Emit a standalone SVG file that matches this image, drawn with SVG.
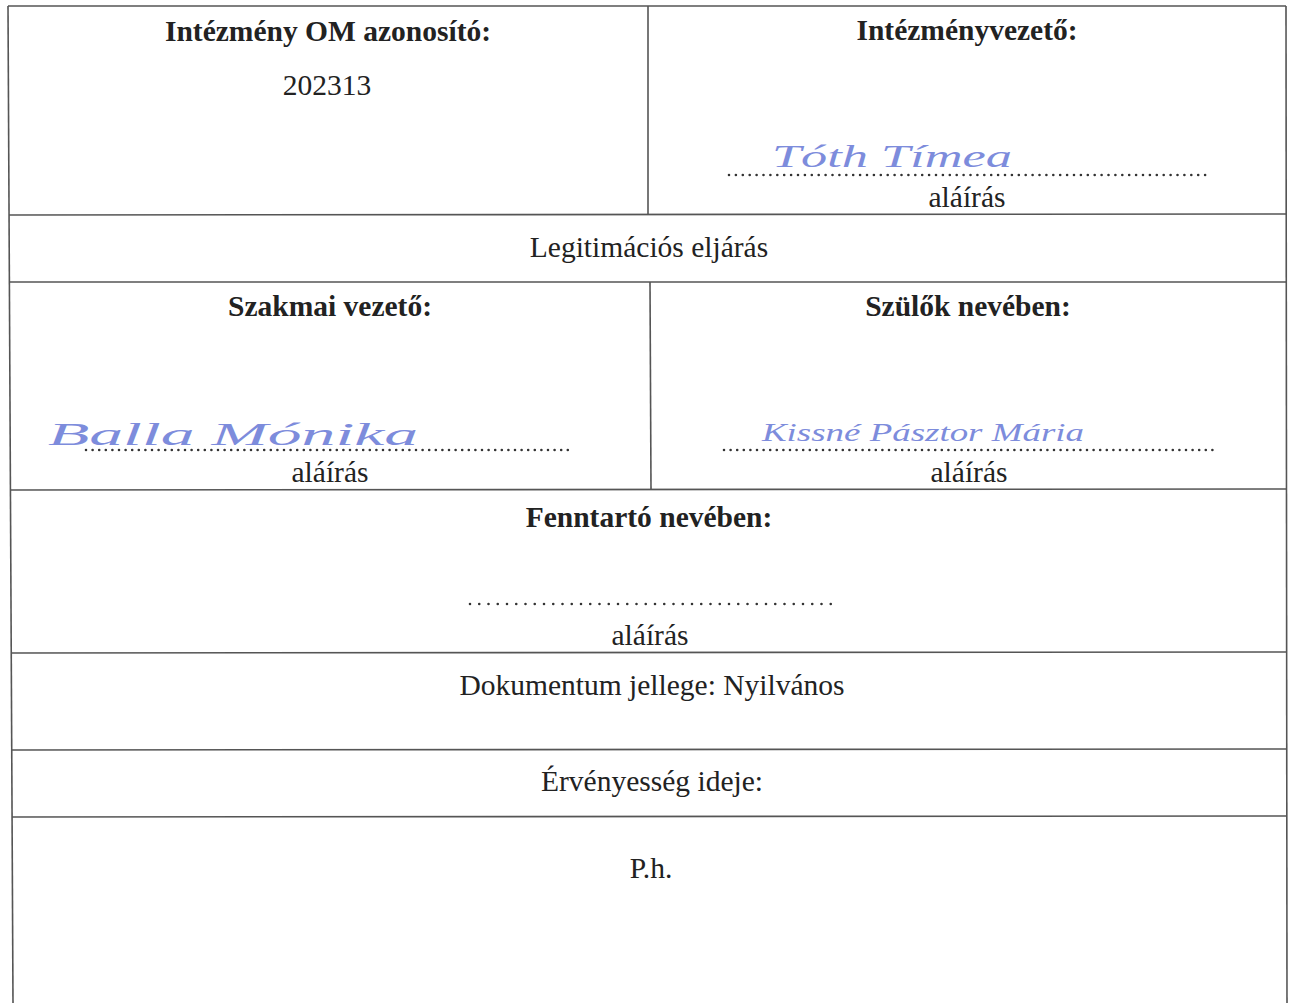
<svg xmlns="http://www.w3.org/2000/svg" width="1289" height="1003" viewBox="0 0 1289 1003">
<style>
.t{font-family:"Liberation Serif","Times New Roman",serif;font-size:29.5px;fill:#222;text-anchor:middle}
.b{font-weight:bold}
.ln{stroke:#555;stroke-width:1.6;fill:none}
.dot{stroke:#333;stroke-width:2.6;stroke-linecap:round;fill:none}
.sig{font-family:"Liberation Serif",serif;font-style:italic;fill:#7d8cdc;font-size:32px;text-anchor:start}
</style>
<rect width="1289" height="1003" fill="#fff"/>
<g id="grid">
<line class="ln" x1="8" y1="6" x2="1286" y2="6"/>
<line class="ln" x1="8" y1="6" x2="13" y2="1003"/>
<line class="ln" x1="1286" y1="6" x2="1287" y2="1003"/>
<line class="ln" x1="648" y1="6" x2="648" y2="215"/>
<line class="ln" x1="9" y1="215" x2="1286" y2="214"/>
<line class="ln" x1="9" y1="282" x2="1286" y2="282"/>
<line class="ln" x1="650" y1="282" x2="651" y2="490"/>
<line class="ln" x1="10" y1="490" x2="1286" y2="489"/>
<line class="ln" x1="11" y1="653" x2="1287" y2="652"/>
<line class="ln" x1="12" y1="750" x2="1287" y2="749"/>
<line class="ln" x1="12" y1="817" x2="1287" y2="816"/>
</g>
<g id="om">
<text class="t b" x="328" y="41">Intézmény OM azonosító:</text>
<text class="t" x="327" y="95">202313</text>
</g>
<g id="vezeto">
<text class="t b" x="967" y="40">Intézményvezető:</text>
<text class="sig" x="772" y="167" textLength="240" lengthAdjust="spacingAndGlyphs">Tóth Tímea</text>
<line class="dot" x1="729" y1="175" x2="1206" y2="175" stroke-dasharray="0 6.9"/>
<text class="t" x="967" y="207">aláírás</text>
</g>
<g id="legit">
<text class="t" x="649" y="257">Legitimációs eljárás</text>
</g>
<g id="szakmai">
<text class="t b" x="330" y="316">Szakmai vezető:</text>
<text class="sig" x="48" y="445" textLength="370" lengthAdjust="spacingAndGlyphs">Balla Mónika</text>
<line class="dot" x1="86" y1="450" x2="572" y2="450" stroke-dasharray="0 6.6"/>
<text class="t" x="330" y="482">aláírás</text>
</g>
<g id="szulok">
<text class="t b" x="968" y="316">Szülők nevében:</text>
<text class="sig" x="762" y="441" style="font-size:25px" textLength="322" lengthAdjust="spacingAndGlyphs">Kissné Pásztor Mária</text>
<line class="dot" x1="724" y1="450" x2="1216" y2="450" stroke-dasharray="0 6.6"/>
<text class="t" x="969" y="482">aláírás</text>
</g>
<g id="fenntarto">
<text class="t b" x="649" y="527">Fenntartó nevében:</text>
<line class="dot" x1="470" y1="604" x2="831" y2="604" stroke-dasharray="0 9.25"/>
<text class="t" x="650" y="645">aláírás</text>
</g>
<g id="jelleg">
<text class="t" x="652" y="695">Dokumentum jellege: Nyilvános</text>
</g>
<g id="ervenyes">
<text class="t" x="652" y="791">Érvényesség ideje:</text>
</g>
<g id="ph">
<text class="t" x="651" y="878">P.h.</text>
</g>
</svg>
